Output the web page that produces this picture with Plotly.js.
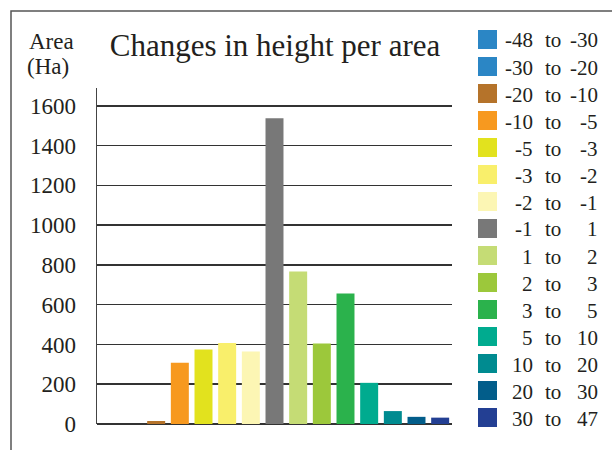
<!DOCTYPE html>
<html>
<head>
<meta charset="utf-8">
<script src="https://cdn.plot.ly/plotly-3.0.1.min.js"></script>
<style>
html,body{margin:0;padding:0;background:#fff;overflow:hidden;}
#chart{width:612px;height:450px;}
</style>
</head>
<body>
<div id="chart"></div>
<script>
// ---- data ----
const rangeFrom = ["-48","-30","-20","-10","-5","-3","-2","-1","1","2","3","5","10","20","30"];
const rangeTo   = ["-30","-20","-10","-5","-3","-2","-1","1","2","3","5","10","20","30","47"];
const categories = rangeFrom.map((f, i) => f + " to " + rangeTo[i]);
const areaHa = [0, 0, 15, 308, 375, 408, 365, 1538, 767, 405, 657, 207, 65, 36, 32];
const colors = ["#2b86c5","#2b86c5","#b5732a","#f7991f","#e2e21e","#f9ef6b","#fcf6b4",
                "#787878","#c5dc75","#9cc83b","#2bb24c","#00ab8f","#008b90","#025d8a","#233f93"];
const yTicks = [0,200,400,600,800,1000,1200,1400,1600];

// ---- layout helpers (pixel -> paper) ----
const W = 612, H = 450;
const M = {l:97, r:160, t:88, b:26};
const PW = W - M.l - M.r, PH = H - M.t - M.b;
const px = x => (x - M.l) / PW;
const py = y => (H - M.b - y) / PH;

const FONT = '"Liberation Serif", "DejaVu Serif", serif';
const TXT = '#231f20';

const shapes = [];
const annotations = [];

// frame
shapes.push({type:'rect', xref:'paper', yref:'paper',
  x0:px(11), x1:px(700), y0:py(600), y1:py(11),
  line:{color:'#555', width:1.5}, fillcolor:'rgba(0,0,0,0)', layer:'below'});

// custom legend
categories.forEach((c, i) => {
  const cy = 39.5 + i * 27;
  shapes.push({type:'rect', xref:'paper', yref:'paper',
    x0:px(478), x1:px(497), y0:py(cy + 9.5), y1:py(cy - 9.5),
    line:{width:0}, fillcolor:colors[i]});
  annotations.push({xref:'paper', yref:'paper', x:px(535), y:py(cy + 1), xanchor:'right', yanchor:'middle',
    text:rangeFrom[i], showarrow:false, font:{family:FONT, size:21, color:TXT}});
  annotations.push({xref:'paper', yref:'paper', x:px(552.5), y:py(cy + 1), xanchor:'center', yanchor:'middle',
    text:'to', showarrow:false, font:{family:FONT, size:21, color:TXT}});
  annotations.push({xref:'paper', yref:'paper', x:px(600), y:py(cy + 1), xanchor:'right', yanchor:'middle',
    text:rangeTo[i], showarrow:false, font:{family:FONT, size:21, color:TXT}});
});

// axis title "Area (Ha)"
annotations.push({xref:'paper', yref:'paper', x:px(27), y:py(41), xanchor:'left', yanchor:'middle',
  text:'Area', showarrow:false, font:{family:FONT, size:23, color:TXT}});
annotations.push({xref:'paper', yref:'paper', x:px(25), y:py(66), xanchor:'left', yanchor:'middle',
  text:'(Ha)', showarrow:false, font:{family:FONT, size:23, color:TXT}});

const trace = {
  type:'bar',
  x: categories,
  y: areaHa,
  marker:{color:colors, line:{width:0}},
  hoverinfo:'x+y',
  showlegend:false
};

const layout = {
  width:W, height:H,
  margin:M,
  paper_bgcolor:'#fff', plot_bgcolor:'#fff',
  title:{text:'Changes in height per area', font:{family:FONT, size:31, color:TXT},
         x:px(275), xanchor:'center', xref:'paper', y:1 - 45/H, yanchor:'middle'},
  bargap:0.24,
  xaxis:{type:'category', showticklabels:false, showgrid:false, showline:false, zeroline:false, ticks:''},
  yaxis:{range:[0,1690], tickvals:yTicks, ticktext:yTicks.map(String),
         showgrid:true, gridcolor:'#333', gridwidth:1.5,
         zeroline:true, zerolinecolor:'#333', zerolinewidth:1.5,
         showline:true, linecolor:'#444', linewidth:1.5,
         ticks:'outside', ticklen:15, tickcolor:'rgba(0,0,0,0)',
         tickfont:{family:FONT, size:23, color:TXT}},
  shapes:shapes,
  annotations:annotations
};

Plotly.newPlot('chart', [trace], layout, {displayModeBar:false, staticPlot:true});
</script>
</body>
</html>
